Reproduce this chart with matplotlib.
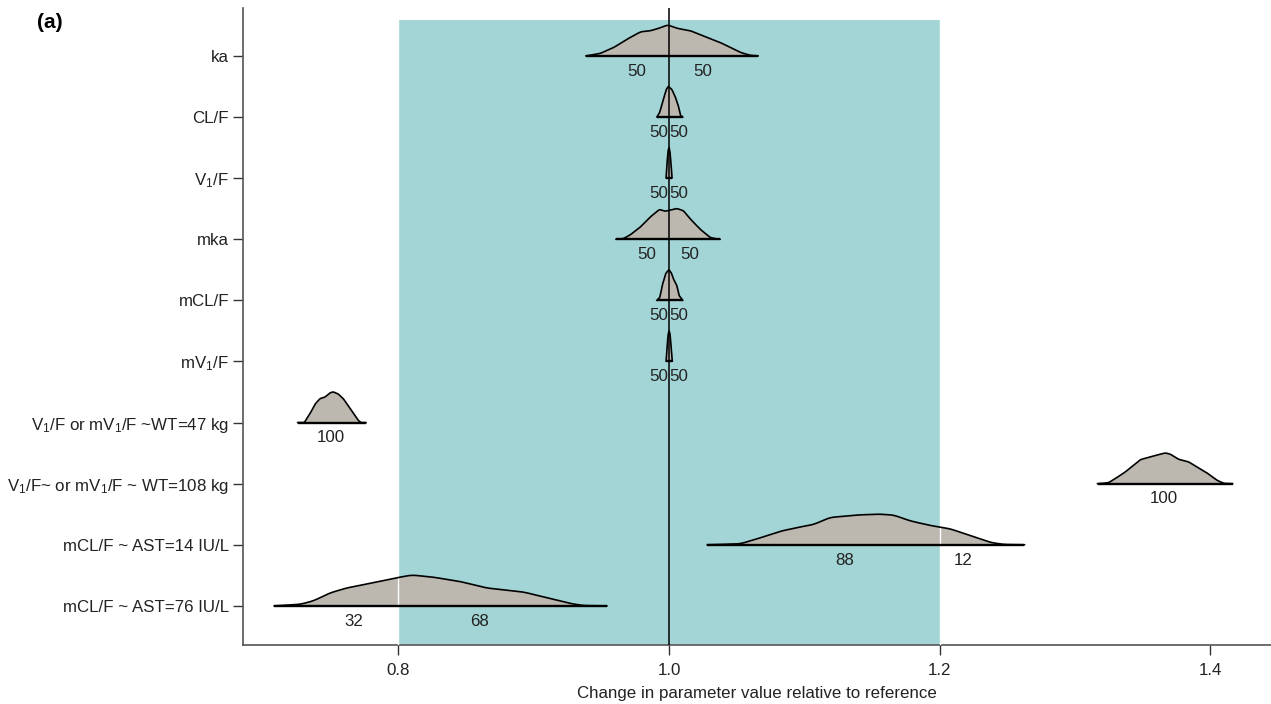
import numpy as np
import matplotlib
matplotlib.use("Agg")
import matplotlib.pyplot as plt

plt.rcParams['font.family'] = ['Liberation Sans', 'DejaVu Sans']
plt.rcParams['mathtext.default'] = 'regular'

# row labels, top to bottom
labels = ['ka', 'CL/F', r'V$_1$/F', 'mka', 'mCL/F', r'mV$_1$/F',
          r'V$_1$/F or mV$_1$/F ~WT=47 kg',
          r'V$_1$/F~ or mV$_1$/F ~ WT=108 kg',
          'mCL/F ~ AST=14 IU/L',
          'mCL/F ~ AST=76 IU/L']

# density outlines (x value, relative height)
ka_x = [0.9386, 0.949, 0.959, 0.969, 0.979, 0.986, 0.993, 0.999, 1.006, 1.016,
        1.025, 1.038, 1.053, 1.060, 1.0658]
ka_h = [0, 0.08, 0.27, 0.54, 0.78, 0.81, 0.90, 1.0, 0.89, 0.81, 0.65, 0.43, 0.11, 0.02, 0]

cl_x = [0.991, 0.993, 0.9958, 0.998, 0.9995, 1.002, 1.0044, 1.0069, 1.0085, 1.0101]
cl_h = [0, 0.14, 0.58, 0.9, 1.0, 0.9, 0.68, 0.36, 0.05, 0]

v1_x = [0.9978, 0.9985, 0.9993, 1.0, 1.0007, 1.0015, 1.0022]
v1_h = [0, 0.5, 0.9, 1.0, 0.85, 0.45, 0]

mka_x = [0.9608, 0.9662, 0.9712, 0.9786, 0.986, 0.9929, 0.9971, 1.0013, 1.0057,
         1.0106, 1.0155, 1.0229, 1.0303, 1.034, 1.0377]
mka_h = [0, 0.02, 0.14, 0.39, 0.72, 0.97, 0.91, 0.95, 1.0, 0.93, 0.67, 0.33, 0.06, 0.02, 0]

mcl_x = [0.991, 0.9932, 0.995, 0.9975, 0.9999, 1.0017, 1.0032, 1.0057, 1.0074, 1.0101]
mcl_h = [0, 0.1, 0.49, 0.87, 1.0, 0.89, 0.7, 0.49, 0.16, 0]

mv1_x = [0.9978, 0.9985, 0.9993, 1.0, 1.0007, 1.0015, 1.0024]
mv1_h = [0, 0.45, 0.88, 1.0, 0.9, 0.5, 0]

wt47_x = [0.7255, 0.7304, 0.7346, 0.7383, 0.742, 0.7457, 0.7494, 0.7518, 0.7555,
          0.7592, 0.7629, 0.7666, 0.7703, 0.7723, 0.776]
wt47_h = [0, 0.0, 0.29, 0.6, 0.78, 0.83, 0.97, 1.0, 0.93, 0.78, 0.55, 0.31, 0.07, 0, 0]

wt108_x = [1.3167, 1.3248, 1.331, 1.3372, 1.3433, 1.3483, 1.3556, 1.3667, 1.3705,
           1.3766, 1.384, 1.3902, 1.3976, 1.405, 1.41, 1.4165]
wt108_h = [0, 0.03, 0.2, 0.38, 0.6, 0.78, 0.87, 1.0, 0.96, 0.79, 0.71, 0.54, 0.35,
           0.11, 0.01, 0]

ast14_x = [1.0283, 1.0525, 1.0648, 1.0821, 1.0967, 1.1067, 1.119, 1.1388, 1.1548,
           1.1659, 1.1782, 1.193, 1.2078, 1.2226, 1.2373, 1.2472, 1.2627]
ast14_h = [0, 0.03, 0.19, 0.44, 0.58, 0.66, 0.89, 0.97, 1.0, 0.97, 0.78, 0.63, 0.52,
           0.3, 0.08, 0.01, 0]

ast76_x = [0.7082, 0.7272, 0.737, 0.7494, 0.7617, 0.7814, 0.7987, 0.8098, 0.8257,
           0.8455, 0.8652, 0.8923, 0.912, 0.9268, 0.9366, 0.954]
ast76_h = [0, 0.05, 0.16, 0.42, 0.58, 0.75, 0.91, 1.0, 0.93, 0.79, 0.58, 0.45, 0.24,
           0.08, 0.01, 0]

dens_x = [ka_x, cl_x, v1_x, mka_x, mcl_x, mv1_x, wt47_x, wt108_x, ast14_x, ast76_x]
dens_h = [ka_h, cl_h, v1_h, mka_h, mcl_h, mv1_h, wt47_h, wt108_h, ast14_h, ast76_h]

# percentage labels under each ridge (text, x position)
pct = [[('50', 0.976), ('50', 1.025)],
       [('50', 0.9925), ('50', 1.0072)],
       [('50', 0.9925), ('50', 1.0072)],
       [('50', 0.9835), ('50', 1.015)],
       [('50', 0.9925), ('50', 1.0072)],
       [('50', 0.9925), ('50', 1.0072)],
       [('100', 0.750)],
       [('100', 1.3655)],
       [('88', 1.130), ('12', 1.2176)],
       [('32', 0.7673), ('68', 0.8597)]]

n = len(labels)
rows = np.arange(n, 0, -1)  # ka on top

fig = plt.figure(figsize=(12.71, 7.04), dpi=100)
ax = fig.add_axes([243 / 1271, 1 - 645 / 704, 1 - 243 / 1271, 637 / 704])

ax.set_xlim(0.6851, 1.4449)
ax.set_ylim(0.36, 10.785)

# reference band
ax.axvspan(0.8, 1.2, ymax=0.981, color='#a3d5d6', lw=0, zorder=0)


def smooth(xs, hs, k=9):
    # round off the corners of the traced outline for drawing
    fx = np.linspace(xs[0], xs[-1], 300)
    fh = np.interp(fx, xs, hs)
    pad = np.pad(fh, k, mode='edge')
    fh = np.convolve(pad, np.ones(k) / k, mode='same')[k:-k]
    fh = fh * (max(hs) / fh.max())
    return fx, fh


scale = 0.5
for r, xs, hs, txt in zip(rows, dens_x, dens_h, pct):
    fx, fh = smooth(np.array(xs), np.array(hs))
    ax.fill_between(fx, r, r + fh * scale, color='#bcb8b0', lw=0, zorder=2)
    ax.plot(fx, r + fh * scale, color='black', lw=1.2, zorder=4)
    ax.plot([fx[0], fx[-1]], [r, r], color='black', lw=1.7, zorder=5,
            solid_capstyle='butt')
    for t, tx in txt:
        ax.text(tx, r - 0.25, t, ha='center', va='center', fontsize=12.2,
                color='#222222', zorder=6)

# band edges show as white lines through the ridges
for edge in [0.8, 1.2]:
    ax.axvline(edge, ymax=0.981, color='white', lw=1.0, zorder=3)

ax.axvline(1.0, color='black', lw=1.1, zorder=6)

ax.set_yticks(rows)
ax.set_yticklabels(labels)
ax.set_xticks([0.8, 1.0, 1.2, 1.4])
ax.set_xticklabels(['0.8', '1.0', '1.2', '1.4'])
ax.tick_params(axis='both', labelsize=12.2, length=7, width=1.0,
               color='#333333', labelcolor='#222222')
ax.tick_params(axis='y', pad=3)
ax.tick_params(axis='x', pad=6)
for s in ['top', 'right']:
    ax.spines[s].set_visible(False)
for s in ['left', 'bottom']:
    ax.spines[s].set_color('#555555')
    ax.spines[s].set_linewidth(1.2)

ax.set_xlabel('Change in parameter value relative to reference', fontsize=12.2,
              color='#222222', labelpad=6)

fig.text(37 / 1271, 1 - 22 / 704, '(a)', fontsize=15, fontweight='bold',
         va='center', ha='left')

fig.savefig('out.png', dpi=100)
